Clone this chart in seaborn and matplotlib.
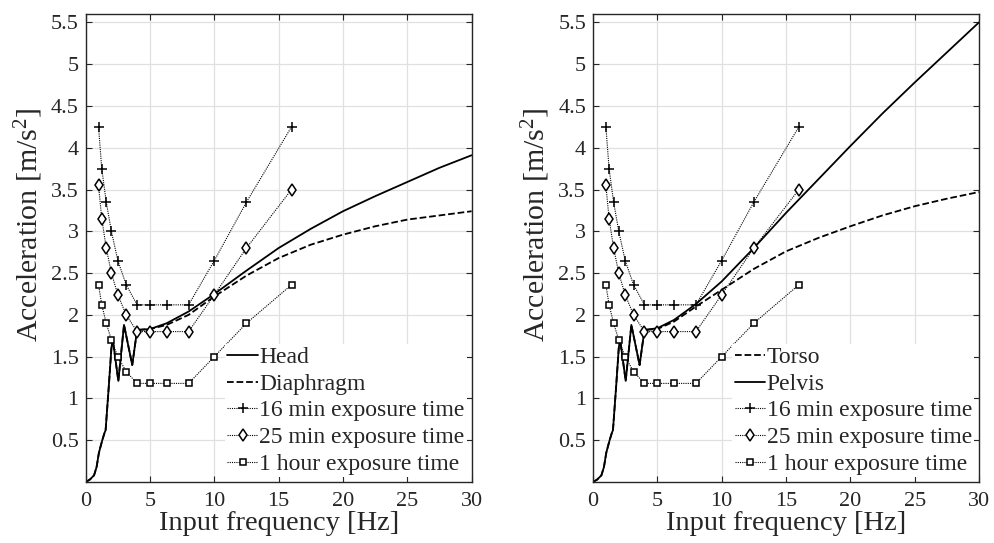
import numpy as np
import matplotlib
matplotlib.use('Agg')
import matplotlib.pyplot as plt
import seaborn as sns
from matplotlib.ticker import FuncFormatter

# body response curves, low-frequency part (shared shape)
FREQ_LOW = [0, 0.33, 0.65, 0.85, 1.03, 1.15, 1.29, 1.47, 1.55, 1.8, 2.0, 2.1, 2.54, 2.98, 3.62, 4.0]
RESP_LOW = [0, 0.03, 0.08, 0.18, 0.35, 0.42, 0.5, 0.59, 0.62, 1.15, 1.6, 1.71, 1.21, 1.88, 1.40, 1.82]
FREQ_HIGH = [5, 6.3, 8, 10, 12.5, 15, 17.5, 20, 22.5, 25, 27.5, 30]
HEAD_HIGH = [1.83, 1.90, 2.04, 2.25, 2.53, 2.80, 3.03, 3.24, 3.42, 3.59, 3.76, 3.91]
DIAPHRAGM_HIGH = [1.83, 1.88, 2.00, 2.22, 2.47, 2.68, 2.84, 2.96, 3.06, 3.14, 3.19, 3.24]
TORSO_HIGH = [1.83, 1.92, 2.10, 2.30, 2.55, 2.76, 2.92, 3.06, 3.19, 3.30, 3.39, 3.47]
PELVIS_HIGH = [1.84, 1.94, 2.13, 2.40, 2.80, 3.22, 3.62, 4.02, 4.41, 4.78, 5.14, 5.50]

# ISO exposure limits
EXPO_FREQ = [1, 1.25, 1.6, 2, 2.5, 3.15, 4, 5, 6.3, 8, 10, 12.5, 16]
MIN16 = [4.25, 3.75, 3.35, 3.0, 2.65, 2.36, 2.12, 2.12, 2.12, 2.12, 2.65, 3.35, 4.25]
MIN25 = [3.55, 3.15, 2.8, 2.5, 2.24, 2.0, 1.8, 1.8, 1.8, 1.8, 2.24, 2.8, 3.5]
HOUR1 = [2.36, 2.12, 1.9, 1.7, 1.5, 1.32, 1.18, 1.18, 1.18, 1.18, 1.5, 1.9, 2.36]

X_TICKS = [0, 5, 10, 15, 20, 25, 30]
Y_TICKS = [0.5, 1, 1.5, 2, 2.5, 3, 3.5, 4, 4.5, 5, 5.5]

sns.set_theme(style='ticks')
plt.rcParams['font.family'] = ['Liberation Serif', 'DejaVu Serif']
plt.rcParams['mathtext.fontset'] = 'custom'
plt.rcParams['mathtext.rm'] = 'Liberation Serif'
plt.rcParams['mathtext.it'] = 'Liberation Serif:italic'

FREQ_BODY = FREQ_LOW + FREQ_HIGH
INK = '#262626'


def draw_panel(ax, curves):
    for label, vals, ls in curves:
        kw = dict(dashes=(3.6, 2.2)) if ls == '--' else {}
        sns.lineplot(x=FREQ_BODY, y=RESP_LOW + vals, ax=ax, color='black', linewidth=1.3,
                     linestyle=ls, label=label, sort=False, estimator=None, **kw)
    expo = [('16 min exposure time', MIN16, '+', 7, 'black'),
            ('25 min exposure time', MIN25, 'd', 6, 'white'),
            ('1 hour exposure time', HOUR1, 's', 4, 'white')]
    for label, vals, mk, ms, fc in expo:
        sns.lineplot(x=EXPO_FREQ, y=vals, ax=ax, color='black', linewidth=0.8,
                     linestyle=(0, (1, 1)), marker=mk, markersize=ms,
                     markerfacecolor=fc, markeredgecolor='black', markeredgewidth=1.1,
                     label=label, sort=False, estimator=None)
    ax.set_xlim(0, 30)
    ax.set_ylim(0, 5.6)
    ax.set_xticks(X_TICKS)
    ax.set_yticks(Y_TICKS)
    ax.yaxis.set_major_formatter(FuncFormatter(lambda v, p: f'{v:g}'))
    ax.grid(True, color='#e0e0e0', linewidth=0.9)
    ax.set_axisbelow(True)
    ax.tick_params(direction='in', length=4, width=0.8, top=True, right=True,
                   labelsize=16, colors=INK)
    ax.tick_params(axis='x', pad=7)
    ax.tick_params(axis='y', pad=5)
    for s in ax.spines.values():
        s.set_color(INK)
        s.set_linewidth(1.0)
    ax.set_xlabel('Input frequency [Hz]', fontsize=20.5, labelpad=0, color=INK)
    ax.set_ylabel('Acceleration [m/s$^2$]', fontsize=21.5, labelpad=0, color=INK)
    ax.yaxis.set_label_coords(-0.105, 0.55)
    leg = ax.legend(loc='lower right', fontsize=17, frameon=True, facecolor='white',
                    edgecolor='none', framealpha=1, handlelength=1.3, handletextpad=0.05,
                    labelspacing=0.22, borderpad=0.1, borderaxespad=0.2, fancybox=False)
    for t in leg.get_texts():
        t.set_color(INK)


fig = plt.figure(figsize=(9.95, 5.43), dpi=100)
ax1 = fig.add_axes([0.0861, 0.1123, 0.3879, 0.8619])
ax2 = fig.add_axes([0.596, 0.1123, 0.3879, 0.8619])

draw_panel(ax1, [('Head', HEAD_HIGH, '-'), ('Diaphragm', DIAPHRAGM_HIGH, '--')])
draw_panel(ax2, [('Torso', TORSO_HIGH, '--'), ('Pelvis', PELVIS_HIGH, '-')])

fig.savefig('out.png', dpi=100)
plt.close(fig)
